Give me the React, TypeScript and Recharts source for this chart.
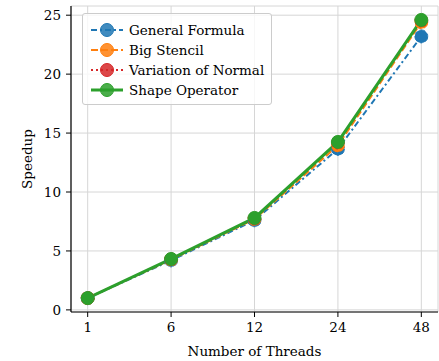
import React from 'react';
import {
  LineChart,
  Line,
  XAxis,
  YAxis,
  CartesianGrid,
} from 'recharts';

const threads = ['1', '6', '12', '24', '48'];
const generalFormula = [1.0, 4.2, 7.6, 13.65, 23.2];
const bigStencil = [1.0, 4.27, 7.7, 13.95, 24.4];
const variationOfNormal = [1.0, 4.3, 7.75, 14.2, 24.55];
const shapeOperator = [1.0, 4.32, 7.8, 14.25, 24.6];
const yTicks = [0, 5, 10, 15, 20, 25];

const FONT = '"DejaVu Serif", serif';
const FS = 13.5;

const series = [
  { key: 'general', name: 'General Formula', color: '#1f77b4', dash: '6 3 2 3', width: 2 },
  { key: 'stencil', name: 'Big Stencil', color: '#ff7f0e', dash: '7 3', width: 2 },
  { key: 'normal', name: 'Variation of Normal', color: '#d62728', dash: '2 3', width: 2 },
  { key: 'shape', name: 'Shape Operator', color: '#2ca02c', dash: undefined, width: 3 },
];

const data = threads.map((t, i) => ({
  idx: i,
  general: generalFormula[i],
  stencil: bigStencil[i],
  normal: variationOfNormal[i],
  shape: shapeOperator[i],
}));

const tickStyle = { fontFamily: FONT, fontSize: FS, fill: '#000' };

// legend drawn as an overlay so it doesn't eat into the plot margins
function LegendBox() {
  return (
    <div
      style={{
        position: 'absolute',
        left: 82,
        top: 13,
        width: 190,
        height: 92,
        background: 'rgba(255,255,255,0.8)',
        border: '1px solid #cccccc',
        borderRadius: 3,
        boxSizing: 'border-box',
        paddingTop: 6,
      }}
    >
      {series.map((s) => (
        <div key={s.key} style={{ display: 'flex', alignItems: 'center', height: 20 }}>
          <svg width={38} height={20} style={{ marginLeft: 6, flex: 'none' }}>
            <line
              x1={2}
              x2={34}
              y1={10}
              y2={10}
              stroke={s.color}
              strokeWidth={s.width}
              strokeDasharray={s.dash}
            />
            <circle cx={18} cy={10} r={6.5} fill={s.color} fillOpacity={0.85} stroke={s.color} />
          </svg>
          <span style={{ fontFamily: FONT, fontSize: FS, color: '#000', whiteSpace: 'nowrap', marginLeft: 2 }}>
            {s.name}
          </span>
        </div>
      ))}
    </div>
  );
}

export default function App() {
  return (
    <div style={{ position: 'fixed', left: 0, top: 0, width: 439, height: 361, background: '#fff' }}>
      <LineChart width={439} height={361} data={data} margin={{ top: 6, right: 1, left: 0, bottom: 0 }}>
        <CartesianGrid stroke="#d6d6d6" strokeWidth={1} />
        <XAxis
          dataKey="idx"
          type="number"
          domain={[-0.2, 4.2]}
          ticks={[0, 1, 2, 3, 4]}
          tickFormatter={(v: number) => threads[v]}
          height={49}
          tickSize={5}
          tickMargin={5}
          tick={tickStyle}
          axisLine={{ stroke: '#000', strokeWidth: 1.2 }}
          tickLine={{ stroke: '#000' }}
          label={{ value: 'Number of Threads', position: 'insideBottom', offset: 5, style: { fontFamily: FONT, fontSize: FS, fill: '#000' } }}
        />
        <XAxis xAxisId="top" orientation="top" dataKey="idx" type="number" domain={[-0.2, 4.2]} height={0} tick={false} tickLine={false} axisLine={{ stroke: '#000', strokeWidth: 1.2 }} />
        <YAxis
          type="number"
          domain={[-0.18, 25.78]}
          ticks={yTicks}
          width={71}
          tickSize={5}
          tickMargin={5}
          tick={tickStyle}
          axisLine={{ stroke: '#000', strokeWidth: 1.2 }}
          tickLine={{ stroke: '#000' }}
          label={{ value: 'Speedup', angle: -90, position: 'insideLeft', offset: 27, style: { fontFamily: FONT, fontSize: FS, fill: '#000', textAnchor: 'middle' } }}
        />
        <YAxis yAxisId="right" orientation="right" type="number" domain={[-0.18, 25.78]} width={0} tick={false} tickLine={false} axisLine={{ stroke: '#000', strokeWidth: 1.2 }} />
        {series.map((s) => (
          <Line
            key={s.key}
            dataKey={s.key}
            name={s.name}
            type="linear"
            stroke={s.color}
            strokeWidth={s.width}
            strokeDasharray={s.dash}
            dot={{ r: 6.5, fill: s.color, stroke: s.color, strokeWidth: 1, fillOpacity: 1 }}
            activeDot={false}
            isAnimationActive={false}
          />
        ))}
      </LineChart>
      <LegendBox />
    </div>
  );
}
